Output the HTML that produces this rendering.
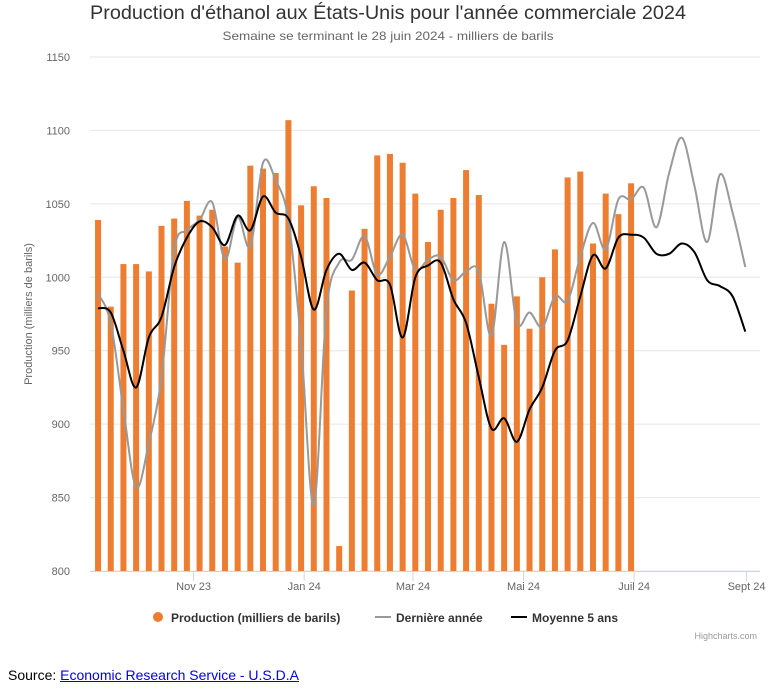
<!DOCTYPE html>
<html><head><meta charset="utf-8">
<style>
body{margin:0;background:#fff;width:775px;height:699px;overflow:hidden;font-family:"Liberation Sans",sans-serif;}
#wrap{position:relative;width:775px;height:699px;}
.src{position:absolute;left:8px;top:667px;font-size:14px;color:#000;}
.src a{color:#0000ee;text-decoration:underline;}
</style></head>
<body>
<div id="wrap">
<svg id="chart" width="775" height="650" xmlns="http://www.w3.org/2000/svg" style="position:absolute;left:0;top:0">
<text x="388" y="19" text-anchor="middle" font-size="19" fill="#333" textLength="596" lengthAdjust="spacingAndGlyphs">Production d'éthanol aux États-Unis pour l'année commerciale 2024</text>
<text x="388" y="40" text-anchor="middle" font-size="12" fill="#666" textLength="331" lengthAdjust="spacingAndGlyphs">Semaine se terminant le 28 juin 2024 - milliers de barils</text>
<text transform="translate(32,314) rotate(-90)" text-anchor="middle" font-size="11" fill="#666">Production (milliers de barils)</text>
<g id="grid"></g><g id="bars"></g><g id="lines"></g><g id="xaxis"></g>
<g>
<g><circle cx="158" cy="617" r="5" fill="#ED7D31"/><text x="171" y="622" font-size="12" font-weight="bold" fill="#333">Production (milliers de barils)</text></g>
<g><line x1="375" y1="617" x2="391" y2="617" stroke="#999" stroke-width="2"/><text x="396" y="622" font-size="12" font-weight="bold" fill="#333">Dernière année</text></g>
<g><line x1="511" y1="617" x2="527" y2="617" stroke="#000" stroke-width="2"/><text x="532" y="622" font-size="12" font-weight="bold" fill="#333">Moyenne 5 ans</text></g>
</g>
<text x="757" y="639" text-anchor="end" font-size="9" fill="#999">Highcharts.com</text>
</svg>
<div class="src">Source: <a>Economic Research Service - U.S.D.A</a></div>
</div>
<script>
const production=[1039,980,1009,1009,1004,1035,1040,1052,1042,1046,1021,1010,1076,1074,1071,1107,1049,1062,1054,817,991,1033,1083,1084,1078,1057,1024,1046,1054,1073,1056,982,954,987,965,1000,1019,1068,1072,1023,1057,1043,1064];
const lastYear=[989,969,910,857,887,932,1019,1032,1039,1051,1012,1041,1021,1078,1066,1039,955,845,978,1010,1012,1028,1002,1014,1029,1005,1012,1014,998,1004,1004,960,1024,969,976,966,987,984,1014,1037,1019,1053,1053,1061,1034,1071,1095,1062,1024,1070,1044,1007];
const avg5=[979,976,950,925,959,973,1007,1027,1038,1034,1022,1042,1032,1055,1044,1040,1014,978,1005,1016,1005,1010,998,995,959,1000,1008,1010,985,969,932,897,904,888,910,925,950,957,987,1015,1006,1027,1029,1027,1016,1016,1023,1017,998,994,987,963];
const yTicks=[800,850,900,950,1000,1050,1100,1150];
const xTickLabels=["Nov 23","Jan 24","Mar 24","Mai 24","Juil 24","Sept 24"];
const xTickDays=[61,122,182,243,304,366];
const firstWeekDay=8.3;
const NS="http://www.w3.org/2000/svg";
const X0=83,PXD=1.813,L=90,R=760,YT=57,YB=571;
function xDay(d){return X0+d*PXD;}
function xWeek(i){return xDay(firstWeekDay+7*i);}
function y(v){return YB-(v-800)/(1150-800)*(YB-YT);}
function mk(t,a,p){const e=document.createElementNS(NS,t);for(const k in a)e.setAttribute(k,a[k]);p.appendChild(e);return e;}
const grid=document.getElementById('grid');
yTicks.forEach(v=>{
 const l=mk('line',{x1:L,x2:R,y1:y(v),y2:y(v),stroke:'#e6e6e6','stroke-width':1},grid);
 
 
 const t=mk('text',{x:70,y:y(v)+4,'text-anchor':'end','font-size':11,fill:'#666'},grid);
 t.textContent=v;
 
 
});
const bars=document.getElementById('bars');
production.forEach((v,i)=>{
 const b=mk('rect',{x:xWeek(i)-3,y:y(v),width:6,height:YB-y(v),fill:'#ED7D31'},bars);
 
 
});
function smooth(arr){
 const p=arr.map((v,i)=>[xWeek(i),y(v)]);
 let d='M'+p[0][0]+','+p[0][1];
 for(let i=0;i<p.length-1;i++){
  const p0=p[i-1]||p[i],p1=p[i],p2=p[i+1],p3=p[i+2]||p2;
  const c1=[p1[0]+(p2[0]-p0[0])/6,p1[1]+(p2[1]-p0[1])/6];
  const c2=[p2[0]-(p3[0]-p1[0])/6,p2[1]-(p3[1]-p1[1])/6];
  d+=' C'+c1+' '+c2+' '+p2;
 }
 return d;
}
const lines=document.getElementById('lines');
const g1=mk('path',{d:smooth(lastYear),fill:'none',stroke:'#999','stroke-width':2},lines);


const g2=mk('path',{d:smooth(avg5),fill:'none',stroke:'#000','stroke-width':2},lines);


const xa=document.getElementById('xaxis');
const ax=mk('line',{x1:L,x2:R,y1:YB+0.5,y2:YB+0.5,stroke:'#ccd6eb','stroke-width':1},xa);


xTickLabels.forEach((s,i)=>{
 const x=xDay(xTickDays[i]);
 const tk=mk('line',{x1:x,x2:x,y1:YB,y2:YB+10,stroke:'#ccd6eb'},xa);
 
 
 const t=mk('text',{x:x,y:YB+19,'text-anchor':'middle','font-size':11,fill:'#666'},xa);
 t.textContent=s;
 
 
});
</script>
</body></html>
